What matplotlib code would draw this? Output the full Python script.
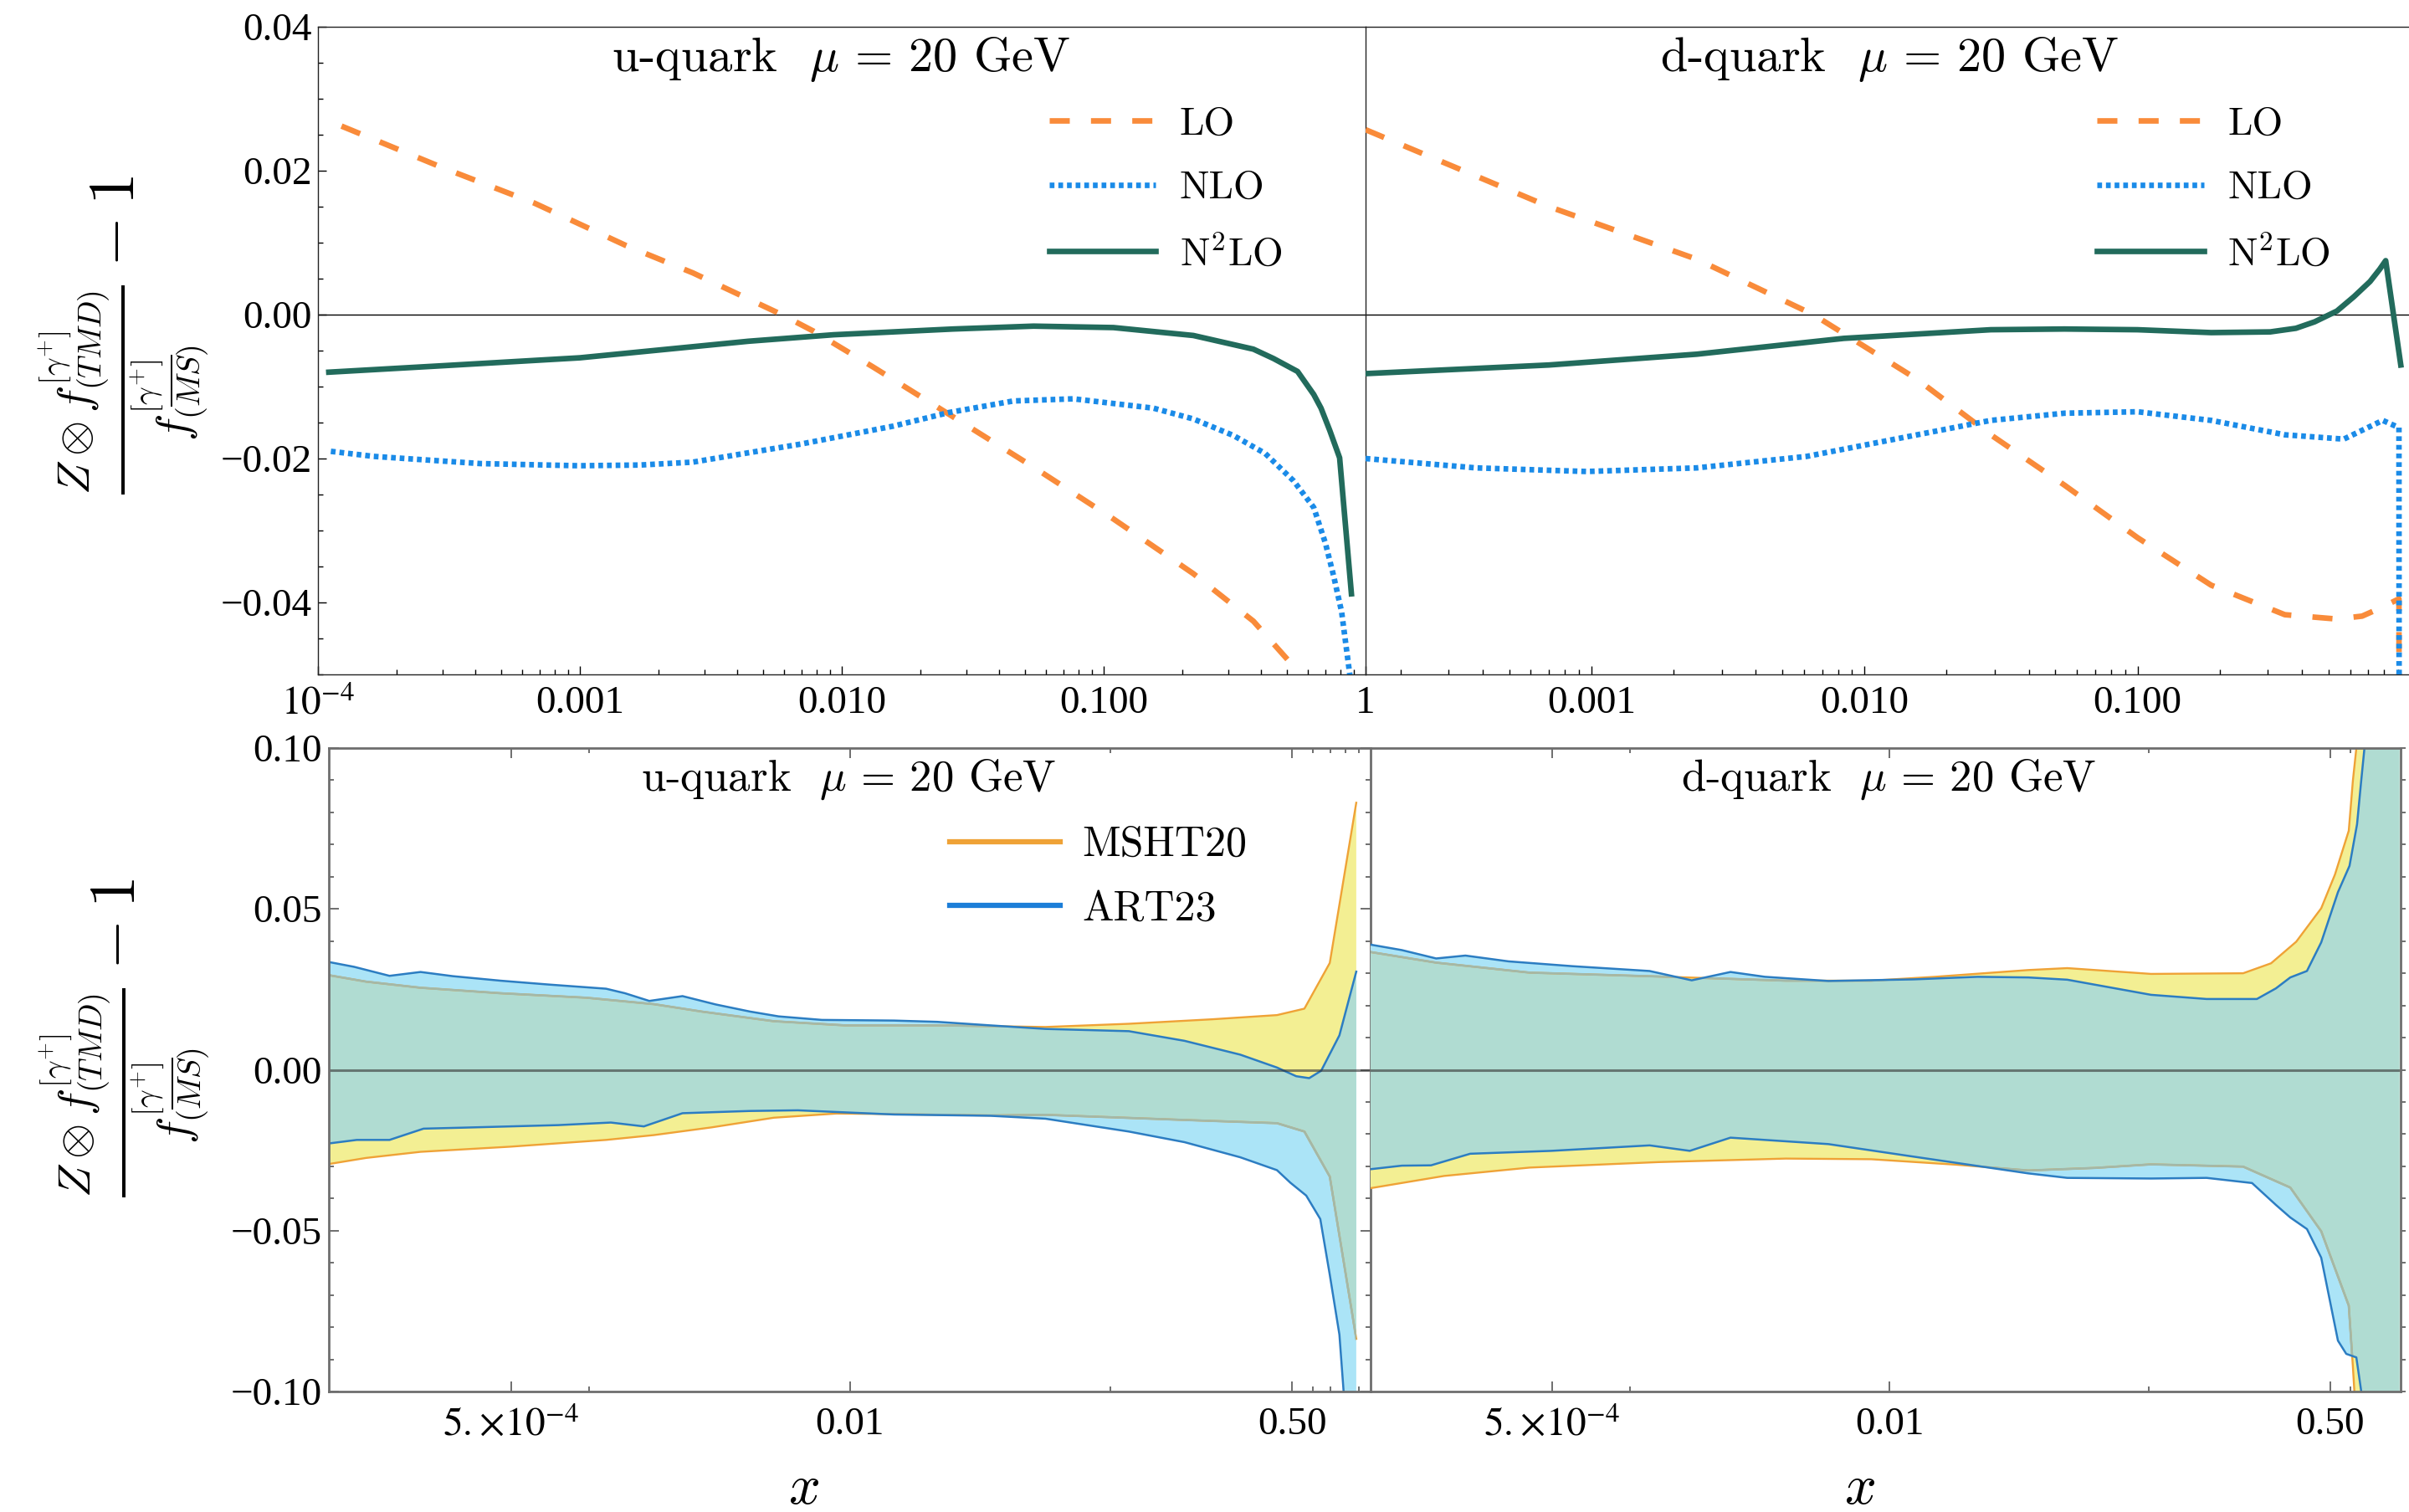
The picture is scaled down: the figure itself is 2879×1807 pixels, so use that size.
import numpy as np
import matplotlib
matplotlib.use('Agg')
import matplotlib.pyplot as plt
from matplotlib.patches import Polygon
from matplotlib.lines import Line2D
from matplotlib.ticker import LogLocator, MultipleLocator, NullFormatter, FixedLocator

plt.rcParams['mathtext.fontset'] = 'cm'
plt.rcParams['font.family'] = 'Liberation Serif'

# ---------------- top row: perturbative orders ----------------
# u-quark
lo_u_x = [1.23e-4, 3.0e-4, 6.7e-4, 1.5e-3, 2.7e-3, 5.9e-3, 7.8e-3, 0.0132, 0.0266, 0.054, 0.109, 0.22, 0.373,
          0.55, 0.63]
lo_u = [0.0262, 0.0204, 0.0155, 0.0096, 0.0058, 0.0, -0.0023, -0.0073, -0.0142, -0.0212, -0.0284, -0.0360, -0.0426,
        -0.0495, -0.055]
nlo_u_x = [1.12e-4, 1.63e-4, 2.6e-4, 4.17e-4, 9.9e-4, 1.70e-3, 2.7e-3, 4.4e-3, 6.95e-3, 0.0157, 0.0257, 0.0452,
           0.0766, 0.155, 0.22, 0.313, 0.414, 0.531, 0.634, 0.703, 0.755, 0.81, 0.871, 0.90]
nlo_u = [-0.0190, -0.0197, -0.0202, -0.0207, -0.0210, -0.0209, -0.0205, -0.0192, -0.0180, -0.0155, -0.0136, -0.0120,
         -0.0117, -0.0130, -0.0145, -0.0168, -0.0193, -0.0231, -0.0268, -0.0318, -0.0363, -0.0413, -0.0501, -0.060]
n2lo_u_x = [1.1e-4, 3.0e-4, 1e-3, 4.4e-3, 9.3e-3, 0.0266, 0.054, 0.109, 0.22, 0.373, 0.445, 0.55, 0.634, 0.676,
            0.73, 0.796, 0.883]
n2lo_u = [-0.0080, -0.0071, -0.0060, -0.0037, -0.0028, -0.0020, -0.0016, -0.0018, -0.0029, -0.0048, -0.0061,
          -0.0079, -0.0111, -0.0130, -0.0161, -0.0199, -0.0388]

# d-quark
lo_d_x = [1.49e-4, 7.0e-4, 2.43e-3, 6.5e-3, 0.0156, 0.029, 0.054, 0.1, 0.186, 0.346, 0.536, 0.664, 0.782, 0.906, 0.908]
lo_d = [0.0257, 0.0150, 0.0077, 0.0, -0.0090, -0.0167, -0.0237, -0.0310, -0.0376, -0.0417, -0.0423, -0.0419, -0.0407,
        -0.0395, -0.080]
nlo_d_x = [1.49e-4, 3.78e-4, 9.6e-4, 2.43e-3, 6.15e-3, 0.0156, 0.029, 0.054, 0.1, 0.186, 0.346, 0.569, 0.79, 0.906, 0.908]
nlo_d = [-0.0200, -0.0213, -0.0218, -0.0213, -0.0197, -0.0167, -0.0147, -0.0137, -0.0135, -0.0147, -0.0167, -0.0173,
         -0.0147, -0.0157, -0.080]
n2lo_d_x = [1.49e-4, 7.0e-4, 2.43e-3, 8.4e-3, 0.029, 0.054, 0.1, 0.186, 0.306, 0.38, 0.445, 0.537, 0.62, 0.71, 0.77,
            0.81, 0.92]
n2lo_d = [-0.0082, -0.0070, -0.0055, -0.0033, -0.0021, -0.0020, -0.0021, -0.0025, -0.0024, -0.0019, -0.0010, 0.0005,
          0.0025, 0.0046, 0.0063, 0.0075, -0.0070]

# ---------------- bottom row: PDF uncertainty bands ----------------
# u-quark
art_u_up_x = [1.0e-4, 1.25e-4, 1.71e-4, 2.25e-4, 2.99e-4, 4.55e-4, 6.97e-4, 1.16e-3, 1.37e-3, 1.70e-3, 2.28e-3,
              3.06e-3, 4.14e-3, 5.33e-3, 7.82e-3, 0.0148, 0.0217, 0.0347, 0.0564, 0.118, 0.193, 0.316, 0.437,
              0.518, 0.581, 0.646, 0.759, 0.881]
art_u_up = [0.0335, 0.0320, 0.0292, 0.0304, 0.0291, 0.0277, 0.0265, 0.0252, 0.0238, 0.0214, 0.0229,
            0.0203, 0.0181, 0.0166, 0.0155, 0.0153, 0.0149, 0.0138, 0.0127, 0.0120, 0.0090, 0.0047, 0.0007,
            -0.0020, -0.0026, -0.0003, 0.0107, 0.0305]
art_u_lo_x = [1.0e-4, 1.28e-4, 1.71e-4, 2.31e-4, 3.24e-4, 7.59e-4, 1.21e-3, 1.62e-3, 2.28e-3, 4.14e-3, 6.32e-3,
              0.0148, 0.0347, 0.0564, 0.118, 0.193, 0.316, 0.437, 0.492, 0.566, 0.641, 0.697, 0.759, 0.787, 0.881]
art_u_lo = [-0.0229, -0.0218, -0.0218, -0.0183, -0.0180, -0.0172, -0.0164, -0.0176, -0.0135, -0.0128, -0.0126,
            -0.0139, -0.0143, -0.0152, -0.0192, -0.0225, -0.0272, -0.0312, -0.0351, -0.0391, -0.0464, -0.0637,
            -0.0823, -0.0995, -0.150]
msht_u_up_x = [1.0e-4, 1.39e-4, 2.25e-4, 4.55e-4, 9.75e-4, 1.77e-3, 2.70e-3, 5.11e-3, 9.64e-3, 0.0225, 0.0564,
               0.118, 0.247, 0.437, 0.557, 0.697, 0.881]
msht_u_up = [0.0294, 0.0274, 0.0255, 0.0238, 0.0224, 0.0204, 0.0181, 0.0151, 0.0138, 0.0138, 0.0133,
             0.0143, 0.0157, 0.0170, 0.0190, 0.0332, 0.0830]
msht_u_lo_x = [1.0e-4, 1.39e-4, 2.25e-4, 4.98e-4, 1.16e-3, 1.77e-3, 2.95e-3, 5.11e-3, 8.89e-3, 0.0120, 0.0347,
               0.0564, 0.193, 0.437, 0.557, 0.697, 0.881]
msht_u_lo = [-0.0293, -0.0274, -0.0255, -0.0239, -0.0218, -0.0203, -0.0179, -0.0149, -0.0136, -0.0137, -0.0142,
             -0.0140, -0.0156, -0.0166, -0.0192, -0.0332, -0.0836]

# d-quark
art_d_up_x = [1.0e-4, 1.32e-4, 1.79e-4, 2.32e-4, 3.40e-4, 6.00e-4, 1.19e-3, 1.73e-3, 2.44e-3, 3.31e-3, 5.82e-3,
              0.0124, 0.0219, 0.0343, 0.0485, 0.102, 0.167, 0.261, 0.309, 0.351, 0.407, 0.462, 0.536, 0.594,
              0.635, 0.659, 0.678, 0.759, 0.925]
art_d_up = [0.0389, 0.0372, 0.0346, 0.0355, 0.0337, 0.0322, 0.0307, 0.0278, 0.0304, 0.0289, 0.0276,
            0.0281, 0.0289, 0.0287, 0.0280, 0.0233, 0.0220, 0.0220, 0.0253, 0.0287, 0.0307, 0.0396, 0.0552, 0.0634,
            0.0763, 0.0899, 0.0999, 0.2, 0.4]
art_d_lo_x = [1.0e-4, 1.32e-4, 1.71e-4, 2.42e-4, 4.97e-4, 1.19e-3, 1.70e-3, 2.44e-3, 5.82e-3, 0.0124, 0.0343,
              0.0485, 0.102, 0.167, 0.250, 0.309, 0.351, 0.407, 0.462, 0.536, 0.577, 0.631, 0.659, 0.759, 0.925]
art_d_lo = [-0.0309, -0.0298, -0.0297, -0.0261, -0.0252, -0.0235, -0.0252, -0.0211, -0.0231, -0.0270, -0.0322,
            -0.0336, -0.0338, -0.0336, -0.0352, -0.0420, -0.0459, -0.0495, -0.0584, -0.0842, -0.0883, -0.0894,
            -0.0999, -0.2, -0.4]
msht_d_up_x = [1.0e-4, 1.79e-4, 4.10e-4, 1.28e-3, 3.98e-3, 8.51e-3, 0.0150, 0.0343, 0.0485, 0.102, 0.231, 0.296,
               0.370, 0.462, 0.522, 0.590, 0.612, 0.631, 0.708, 0.925]
msht_d_up = [0.0366, 0.0333, 0.0302, 0.0290, 0.0277, 0.0277, 0.0289, 0.0310, 0.0316, 0.0298, 0.0300, 0.0331,
             0.0398, 0.0502, 0.0607, 0.0743, 0.0899, 0.0999, 0.2, 0.4]
msht_d_lo_x = [1.0e-4, 1.92e-4, 4.10e-4, 1.28e-3, 3.98e-3, 8.51e-3, 0.0181, 0.0343, 0.0622, 0.102, 0.231, 0.351,
               0.462, 0.590, 0.612, 0.631, 0.708, 0.925]
msht_d_lo = [-0.0368, -0.0330, -0.0304, -0.0287, -0.0276, -0.0278, -0.0295, -0.0313, -0.0305, -0.0294, -0.0301,
             -0.0366, -0.0502, -0.0733, -0.0923, -0.11, -0.2, -0.4]

top_xticks = [1e-4, 1e-3, 1e-2, 1e-1, 1]
top_xlabels = [r'$10^{-4}$', '0.001', '0.010', '0.100', '1']
top_yticks = [0.04, 0.02, 0.0, -0.02, -0.04]
top_ylabels = ['0.04', '0.02', '0.00', '\u22120.02', '\u22120.04']
bot_xticks = [5e-4, 1e-2, 0.5]
bot_xlabels = [r'$5.\!\times\!10^{-4}$', '0.01', '0.50']
bot_xminor = [1e-3, 0.1, 0.6, 0.7, 0.8, 0.9]
bot_yticks = [0.10, 0.05, 0.0, -0.05, -0.10]
bot_ylabels = ['0.10', '0.05', '0.00', '\u22120.05', '\u22120.10']

c_lo, c_nlo, c_n2lo = '#F98B3A', '#1A8BE8', '#226B5C'
c_msht, c_art = '#EFA236', '#2C7DC2'
c_yellow, c_blue, c_green = '#F3EF93', '#ABE4F7', '#B0DCD2'

W, H = 2879, 1807
fig = plt.figure(figsize=(W / 100, H / 100), dpi=100)


def box(l, r, t, b):
    return [l / W, 1 - b / H, (r - l) / W, (b - t) / H]


ax_tl = fig.add_axes(box(380, 1632, 32, 806))
ax_tr = fig.add_axes(box(1632, 2881, 32, 806))
ax_bl = fig.add_axes(box(393, 1638, 894, 1663))
ax_br = fig.add_axes(box(1638, 2869, 894, 1663))
ax_tr.patch.set_visible(False)
ax_br.patch.set_visible(False)

# ---- top panels ----
for ax in (ax_tl, ax_tr):
    ax.set_xscale('log')
    ax.set_ylim(-0.05, 0.04)
    ax.axhline(0, color='black', lw=1.0, zorder=1)
    for s in ax.spines.values():
        s.set_linewidth(1.0)
        s.set_color('#222222')
    ax.xaxis.set_minor_locator(LogLocator(base=10, subs=np.arange(2, 10)))
    ax.xaxis.set_minor_formatter(NullFormatter())
    ax.tick_params(which='both', direction='in', top=False, right=False, width=1.0)
    ax.tick_params(which='major', length=7.5)
    ax.tick_params(which='minor', length=4.5)
    ax.tick_params(axis='x', pad=10)

ax_tl.set_xlim(1e-4, 1)
ax_tr.set_xlim(1.49e-4, 1)
ax_tl.spines['right'].set_visible(False)
ax_tr.spines['right'].set_visible(False)

ax_tl.set_xticks(top_xticks)
ax_tl.set_xticklabels(top_xlabels, fontsize=34, math_fontfamily='stix')
ax_tr.set_xticks(top_xticks[1:4])
ax_tr.set_xticklabels(top_xlabels[1:4], fontsize=34)
ax_tl.set_yticks(top_yticks)
ax_tl.set_yticklabels(top_ylabels, fontsize=34)
ax_tl.yaxis.set_minor_locator(MultipleLocator(0.005))
ax_tl.tick_params(axis='y', pad=5)
ax_tr.set_yticks([])
ax_tr.tick_params(axis='y', which='both', left=False)

for ax, data in ((ax_tl, (lo_u_x, lo_u, nlo_u_x, nlo_u, n2lo_u_x, n2lo_u)),
                 (ax_tr, (lo_d_x, lo_d, nlo_d_x, nlo_d, n2lo_d_x, n2lo_d))):
    l1, = ax.plot(data[0], data[1], color=c_lo, lw=4.8, dashes=(3.6, 3.8), dash_capstyle='butt', label='LO', zorder=3)
    l2, = ax.plot(data[2], data[3], color=c_nlo, lw=4.8, dashes=(0.85, 0.7), dash_capstyle='butt', label='NLO', zorder=3)
    l3, = ax.plot(data[4], data[5], color=c_n2lo, lw=4.8, label=r'N$^2$LO', zorder=4)
    anchor_x = 0.698 if ax is ax_tl else 0.700
    ax.legend(handles=[l1, l2, l3], loc='center left', bbox_to_anchor=(anchor_x, 0.7485), frameon=False,
              prop=dict(family='cmr10', size=34), handlelength=2.7, handletextpad=0.6,
              labelspacing=0.73, borderpad=0, borderaxespad=0)

fig.text(1005 / W, 1 - 85 / H, r'u-quark  $\mu\,=\,20$ GeV', family='cmr10', fontsize=42, ha='center', va='baseline')
fig.text(2258 / W, 1 - 85 / H, r'd-quark  $\mu\,=\,20$ GeV', family='cmr10', fontsize=42, ha='center', va='baseline')

# ---- bottom panels ----


def band_poly(ax, xu, yu, xl, yl, **kw):
    xs = np.concatenate([np.asarray(xu), np.asarray(xl)[::-1]])
    ys = np.concatenate([np.asarray(yu), np.asarray(yl)[::-1]])
    patch = ax.fill(xs, ys, **kw)[0]
    return patch, np.column_stack([xs, ys])


for ax, (mxu, mu, mxl, ml, axu, au, axl, al) in (
        (ax_bl, (msht_u_up_x, msht_u_up, msht_u_lo_x, msht_u_lo, art_u_up_x, art_u_up, art_u_lo_x, art_u_lo)),
        (ax_br, (msht_d_up_x, msht_d_up, msht_d_lo_x, msht_d_lo, art_d_up_x, art_d_up, art_d_lo_x, art_d_lo))):
    ax.set_xscale('log')
    ax.set_ylim(-0.1, 0.1)
    _, msht_xy = band_poly(ax, mxu, mu, mxl, ml, color=c_yellow, lw=0, zorder=1)
    _, art_xy = band_poly(ax, axu, au, axl, al, color=c_blue, lw=0, zorder=2)
    ov, _ = band_poly(ax, axu, au, axl, al, color=c_green, lw=0, zorder=3)
    ov.set_clip_path(Polygon(msht_xy, transform=ax.transData))
    for xx, yy in ((mxu, mu), (mxl, ml)):
        ax.plot(xx, yy, color=c_msht, lw=1.7, zorder=3.5)
        g, = ax.plot(xx, yy, color='#A3B8A8', lw=1.9, zorder=3.6)
        g.set_clip_path(Polygon(art_xy, transform=ax.transData))
    for xx, yy in ((axu, au), (axl, al)):
        ax.plot(xx, yy, color=c_art, lw=1.8, zorder=5)
    ax.axhline(0, color='#333333', lw=2.2, alpha=0.6, zorder=6)
    for s in ax.spines.values():
        s.set_linewidth(2.0)
        s.set_color('#6E6E6E')
        s.set_zorder(7)
    ax.set_xticks(bot_xticks)
    ax.xaxis.set_minor_locator(FixedLocator(bot_xminor))
    ax.xaxis.set_minor_formatter(NullFormatter())
    ax.set_yticks(bot_yticks)
    ax.yaxis.set_minor_locator(MultipleLocator(0.01))
    ax.tick_params(which='both', direction='in', top=True, width=1.2, color='#555555')
    ax.tick_params(which='major', length=8.5)
    ax.tick_params(which='minor', length=4.5)
    ax.tick_params(axis='x', pad=13)
    ax.set_xticklabels(bot_xlabels, fontsize=34, math_fontfamily='stix')

ax_bl.set_xlim(1e-4, 1)
ax_br.set_xlim(1e-4, 0.935)
ax_bl.set_yticklabels(bot_ylabels, fontsize=34)
ax_bl.tick_params(axis='y', which='both', left=True, right=True, pad=6)
ax_br.spines['left'].set_visible(False)
ax_br.tick_params(axis='y', which='both', left=False, right=True, direction='out', labelleft=False, length=4.5)

h1 = Line2D([0], [0], color=c_msht, lw=4.5)
h2 = Line2D([0], [0], color='#1C7ED8', lw=4.5)
ax_bl.legend([h1, h2], ['MSHT20', 'ART23'], loc='center left', bbox_to_anchor=(0.596, 0.799), frameon=False,
             prop=dict(family='cmr10', size=36), handlelength=2.64, handletextpad=0.52,
             labelspacing=0.62, borderpad=0, borderaxespad=0)

fig.text(1014 / W, 1 - 945 / H, r'u-quark  $\mu\,=\,20$ GeV', family='cmr10', fontsize=38, ha='center', va='baseline')
fig.text(2257 / W, 1 - 945 / H, r'd-quark  $\mu\,=\,20$ GeV', family='cmr10', fontsize=38, ha='center', va='baseline')

fig.text(960 / W, 1 - 1781 / H, r'$x$', fontsize=48, ha='center', va='center')
fig.text(2222 / W, 1 - 1781 / H, r'$x$', fontsize=48, ha='center', va='center')

ylab = r'$\frac{Z\otimes f^{[\gamma^{+}]}_{(TMD)}}{f^{[\gamma^{+}]}_{(\overline{MS})}}-1$'
fig.text(148 / W, 1 - 400 / H, ylab, fontsize=56, rotation=90, ha='center', va='center')
fig.text(149 / W, 1 - 1240 / H, ylab, fontsize=56, rotation=90, ha='center', va='center')

fig.savefig('out.png', dpi=100, facecolor='white')
